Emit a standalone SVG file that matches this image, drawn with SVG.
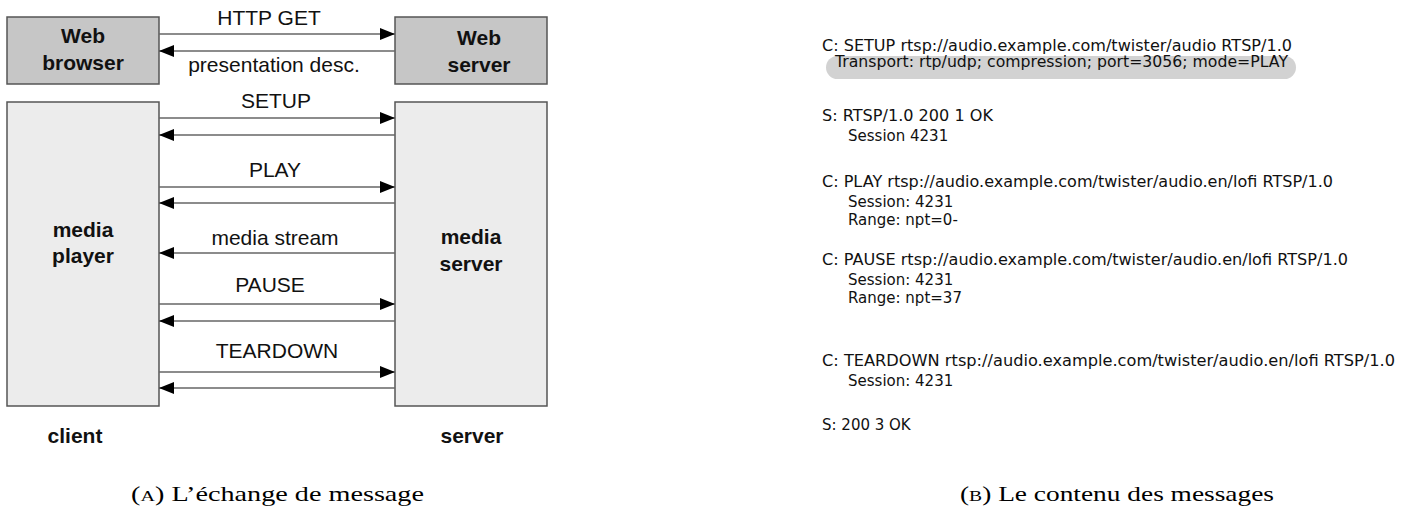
<svg xmlns="http://www.w3.org/2000/svg" width="1409" height="520" viewBox="0 0 1409 520">
<style>
.web{fill:#c6c6c6;stroke:#555;stroke-width:1.5}
.media{fill:#ececec;stroke:#555;stroke-width:1.5}
.bold{font-family:"Liberation Sans",Arial,sans-serif;font-weight:bold;font-size:21px;fill:#111;text-anchor:middle}
.lbl{font-family:"Liberation Sans",Arial,sans-serif;font-size:21px;fill:#111;text-anchor:middle}
.ln{stroke:#666;stroke-width:1.5;fill:none}
.msg{font-family:"DejaVu Sans","Liberation Sans",sans-serif;font-size:15px;fill:#111}
.cap{font-family:"Liberation Serif","Times New Roman",serif;font-size:21px;fill:#000}
</style>
<defs>
<marker id="ah" markerUnits="userSpaceOnUse" markerWidth="16" markerHeight="13" refX="15" refY="6" orient="auto">
<path d="M0,0 L15,6 L0,12 z" fill="#000"/>
</marker>
</defs>
<rect width="1409" height="520" fill="#fff"/>

<g id="web-browser">
<rect class="web" x="7" y="17" width="152" height="67"/>
<text class="bold" x="83" y="43">Web</text>
<text class="bold" x="83" y="70">browser</text>
</g>
<g id="web-server">
<rect class="web" x="395" y="17" width="152" height="67"/>
<text class="bold" x="479" y="45">Web</text>
<text class="bold" x="479" y="72">server</text>
</g>
<g id="media-player">
<rect class="media" x="7" y="102" width="152" height="304"/>
<text class="bold" x="83" y="237">media</text>
<text class="bold" x="83" y="263">player</text>
</g>
<g id="media-server">
<rect class="media" x="395" y="102" width="152" height="304"/>
<text class="bold" x="471" y="244">media</text>
<text class="bold" x="471" y="271">server</text>
</g>
<g id="client-label"><text class="bold" x="75" y="443">client</text></g>
<g id="server-label"><text class="bold" x="472" y="443">server</text></g>

<g id="connectors">
<line class="ln" x1="159" y1="34" x2="395" y2="34" marker-end="url(#ah)"/>
<line class="ln" x1="395" y1="51" x2="159" y2="51" marker-end="url(#ah)"/>
<line class="ln" x1="159" y1="118" x2="395" y2="118" marker-end="url(#ah)"/>
<line class="ln" x1="395" y1="135" x2="159" y2="135" marker-end="url(#ah)"/>
<line class="ln" x1="159" y1="187" x2="395" y2="187" marker-end="url(#ah)"/>
<line class="ln" x1="395" y1="203" x2="159" y2="203" marker-end="url(#ah)"/>
<line class="ln" x1="395" y1="253" x2="159" y2="253" marker-end="url(#ah)"/>
<line class="ln" x1="159" y1="304" x2="395" y2="304" marker-end="url(#ah)"/>
<line class="ln" x1="395" y1="321" x2="159" y2="321" marker-end="url(#ah)"/>
<line class="ln" x1="159" y1="372" x2="395" y2="372" marker-end="url(#ah)"/>
<line class="ln" x1="395" y1="388" x2="159" y2="388" marker-end="url(#ah)"/>
<text class="lbl" x="269" y="25">HTTP GET</text>
<text class="lbl" x="274" y="72">presentation desc.</text>
<text class="lbl" x="276" y="108">SETUP</text>
<text class="lbl" x="275" y="177">PLAY</text>
<text class="lbl" x="275" y="245">media stream</text>
<text class="lbl" x="270" y="292">PAUSE</text>
<text class="lbl" x="277" y="358">TEARDOWN</text>
</g>

<g id="messages">
<rect x="826" y="56" width="470" height="23" rx="11.5" fill="#d2d2d2"/>
<text class="msg" x="822" y="51" textLength="470" lengthAdjust="spacingAndGlyphs">C: SETUP rtsp://audio.example.com/twister/audio RTSP/1.0</text>
<text class="msg" x="835" y="67" textLength="453" lengthAdjust="spacingAndGlyphs">Transport: rtp/udp; compression; port=3056; mode=PLAY</text>
<text class="msg" x="822" y="121" textLength="171" lengthAdjust="spacingAndGlyphs">S: RTSP/1.0 200 1 OK</text>
<text class="msg" x="848" y="141">Session 4231</text>
<text class="msg" x="822" y="187" textLength="511" lengthAdjust="spacingAndGlyphs">C: PLAY rtsp://audio.example.com/twister/audio.en/lofi RTSP/1.0</text>
<text class="msg" x="848" y="207">Session: 4231</text>
<text class="msg" x="848" y="225">Range: npt=0-</text>
<text class="msg" x="822" y="265" textLength="526" lengthAdjust="spacingAndGlyphs">C: PAUSE rtsp://audio.example.com/twister/audio.en/lofi RTSP/1.0</text>
<text class="msg" x="848" y="285">Session: 4231</text>
<text class="msg" x="848" y="303">Range: npt=37</text>
<text class="msg" x="822" y="366" textLength="573" lengthAdjust="spacingAndGlyphs">C: TEARDOWN rtsp://audio.example.com/twister/audio.en/lofi RTSP/1.0</text>
<text class="msg" x="848" y="386">Session: 4231</text>
<text class="msg" x="822" y="430">S: 200 3 OK</text>
</g>

<g id="captions">
<text class="cap" x="131" y="501" textLength="293" lengthAdjust="spacingAndGlyphs">(<tspan font-size="15">A</tspan>)  L’échange de message</text>
<text class="cap" x="960" y="501" textLength="314" lengthAdjust="spacingAndGlyphs">(<tspan font-size="15">B</tspan>)  Le contenu des messages</text>
</g>
</svg>
